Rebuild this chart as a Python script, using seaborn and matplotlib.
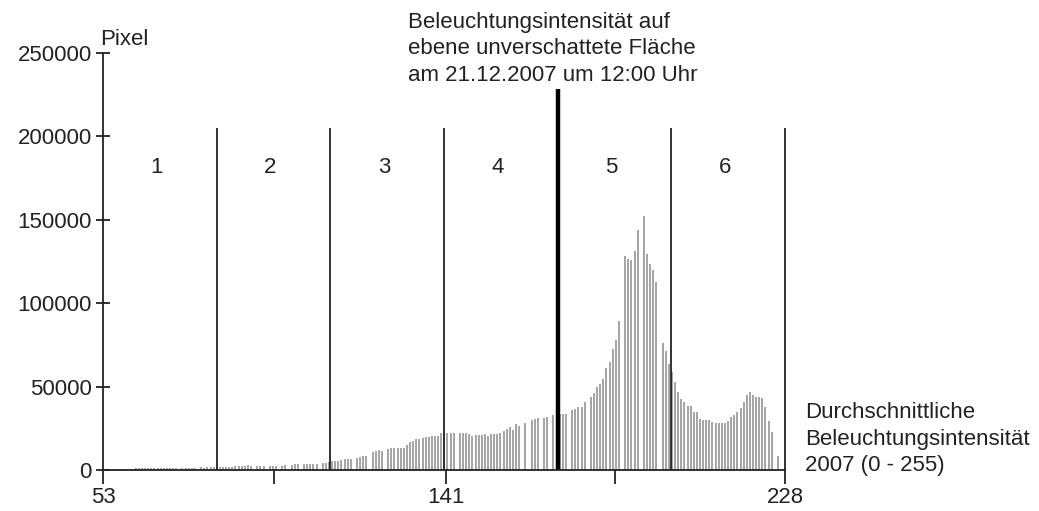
import numpy as np
import pandas as pd
import seaborn as sns
import matplotlib.pyplot as plt

# Histogramm der Beleuchtungsintensität (Klassenbreite 0.8)
bin_centers = np.round(np.arange(53.4, 228.0, 0.8), 1)

pixel_counts = [
    # Klasse 1
    0, 0, 0, 0, 600, 0, 0, 800, 0, 0, 1200, 1300, 1300, 1300, 1300, 1400, 1300, 1400,
    1300, 1400, 1300, 1400, 1400, 1300, 0, 1400, 1500, 1400, 1500, 1500, 0, 1600, 1500, 1700, 1800, 1800,
    # Klasse 2
    1900, 1800, 1900, 2000, 1900, 2100, 2600, 2700, 2700, 2600, 2800, 2700, 0, 2600, 2700, 2600, 0, 2600,
    2700, 2600, 0, 2700, 2900, 0, 3000, 3600, 3700, 0, 3600, 3700, 3600, 3700, 3800, 0, 4200, 4500, 4600,
    # Klasse 3
    5300, 5300, 5600, 6300, 6400, 6400, 6400, 0, 7300, 8000, 8600, 8700, 0, 11000, 11500, 11900, 11200, 0,
    12600, 13000, 13200, 13100, 13300, 13200, 15000, 16500, 17600, 18300, 18800, 18900, 19500, 19900,
    20100, 20400, 20600, 22000,
    # Klasse 4
    22300, 22400, 22400, 22400, 0, 22400, 22400, 22300, 21500, 20200, 20800, 20900, 21000, 21500, 20600,
    21600, 21700, 21700, 22400, 23500, 24500, 25500, 23800, 27500, 26500, 0, 28000, 0, 30000, 30500,
    31000, 0, 31200, 32000, 0, 33200, 33400,
    # Klasse 5
    33400, 33400, 33500, 0, 36000, 36500, 37500, 38000, 40500, 0, 44000, 46000, 49500, 51500, 54500,
    61000, 65000, 72500, 77800, 89500, 0, 128000, 126800, 126000, 131500, 144000, 0, 152000, 129500,
    123500, 120000, 112500, 0, 76000, 71500, 63500, 58500,
    # Klasse 6
    52500, 46500, 42500, 40500, 38500, 38500, 35000, 35000, 30500, 30000, 30000, 30000, 28500, 28000,
    28000, 28000, 28000, 29500, 31500, 33000, 35000, 37000, 40500, 45000, 46500, 45000, 44000, 44000,
    43000, 37500, 29500, 22500, 0, 8500, 0, 0,
]

class_bounds = [82.2, 111.3, 140.5, 169.7, 198.8, 228.0]
class_labels = ['1', '2', '3', '4', '5', '6']
reference_value = 169.7

x_ticks = [53, 97, 141, 184.5, 228]
x_ticklabels = ['53', '', '141', '', '228']
y_ticks = [0, 50000, 100000, 150000, 200000, 250000]

df = pd.DataFrame({'intensitaet': bin_centers, 'pixel': pixel_counts})

sns.set_style('ticks')
plt.rcParams['font.family'] = ['Liberation Sans', 'DejaVu Sans']
plt.rcParams['font.size'] = 16
text_color = '#222222'

fig = plt.figure(figsize=(10.39, 5.11), dpi=100)
ax = fig.add_axes([0.0991, 0.0802, 0.6564, 0.8161])

sns.histplot(data=df, x='intensitaet', weights='pixel', binwidth=0.8, binrange=(53.0, 228.2),
             shrink=0.65, color='#a6a6a6', alpha=1, linewidth=0, ax=ax)

# Klassengrenzen
for b in class_bounds:
    if b == reference_value:
        ax.plot([b, b], [0, 228500], color='black', lw=3.2, solid_capstyle='butt', clip_on=False)
    else:
        ax.plot([b, b], [0, 205000], color='#222222', lw=1.3, solid_capstyle='butt', clip_on=False)

lower = [53.0] + class_bounds[:-1]
for lo, hi, lab in zip(lower, class_bounds, class_labels):
    ax.text((lo + hi) / 2 - 0.8, 181500, lab, ha='center', va='center', color=text_color)

ax.set_xlim(53, 228)
ax.set_ylim(0, 250000)
ax.set_xticks(x_ticks)
ax.set_xticklabels(x_ticklabels)
ax.set_yticks(y_ticks)
ax.set_yticklabels([str(v) for v in y_ticks])
ax.tick_params(axis='y', direction='inout', length=10, width=1.3, pad=3, colors=text_color)
ax.tick_params(axis='x', direction='out', length=10, width=1.3, pad=2, colors=text_color)
ax.set_xlabel('')
ax.set_ylabel('')
sns.despine(ax=ax)
for s in ['left', 'bottom']:
    ax.spines[s].set_linewidth(1.3)
    ax.spines[s].set_color('#222222')

ax.text(52.3, 255000, 'Pixel', ha='left', va='baseline', color=text_color, clip_on=False)
ax.text(131.3, 230500, 'Beleuchtungsintensität auf\nebene unverschattete Fläche\nam 21.12.2007 um 12:00 Uhr',
        ha='left', va='bottom', linespacing=1.32, color=text_color, clip_on=False)
ax.text(233.1, 40500, 'Durchschnittliche\nBeleuchtungsintensität\n2007 (0 - 255)',
        ha='left', va='top', linespacing=1.32, color=text_color, clip_on=False)

fig.savefig('out.png', dpi=100)
